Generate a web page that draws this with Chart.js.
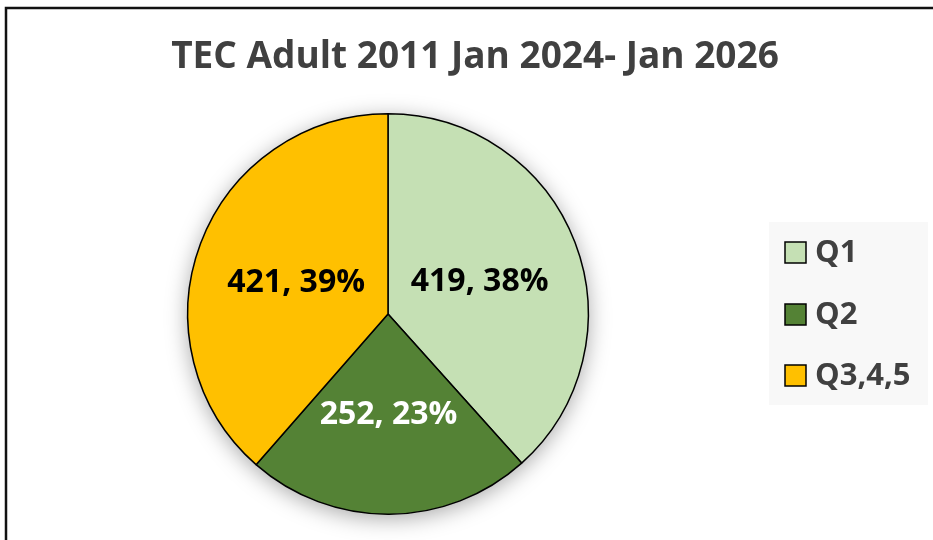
<!DOCTYPE html>
<html>
<head>
<meta charset="utf-8">
<script src="https://cdn.jsdelivr.net/npm/chart.js@4/dist/chart.umd.min.js"></script>
<style>
html,body{margin:0;padding:0;background:#fff;}
#wrap{width:933px;height:540px;position:relative;}
</style>
</head>
<body>
<div id="wrap"><canvas id="c" width="933" height="540"></canvas></div>
<script>
const chartTitle = "TEC Adult 2011 Jan 2024- Jan 2026";
const categories = ["Q1", "Q2", "Q3,4,5"];
const values = [419, 252, 421];
const percentLabels = ["38%", "23%", "39%"];
const sliceColors = ["#C5E0B4", "#548235", "#FFC000"];
const labelColors = ["#000000", "#FFFFFF", "#000000"];

const FONT = "'Open Sans', 'Liberation Sans', sans-serif";

const framePlugin = {
  id: 'frame',
  beforeDraw(chart) {
    const ctx = chart.ctx;
    ctx.save();
    ctx.fillStyle = '#fff';
    ctx.fillRect(0, 0, chart.width, chart.height);
    ctx.strokeStyle = '#111';
    ctx.lineWidth = 2.5;
    ctx.strokeRect(6, 8, 1200, 1200);
    // title
    ctx.fillStyle = '#404040';
    ctx.font = "bold 37px " + FONT;
    ctx.textAlign = 'center';
    ctx.textBaseline = 'middle';
    ctx.fillText(chartTitle, 475, 57);
    // legend background
    ctx.fillStyle = '#F8F8F8';
    ctx.fillRect(769, 222, 159, 183);
    const ys = [252.5, 314.5, 375.5];
    categories.forEach((c, i) => {
      ctx.fillStyle = sliceColors[i];
      ctx.fillRect(785, ys[i] - 10.5, 21, 21);
      ctx.strokeStyle = '#000';
      ctx.lineWidth = 1.5;
      ctx.strokeRect(785, ys[i] - 10.5, 21, 21);
      ctx.fillStyle = '#404040';
      ctx.font = "bold 31px " + FONT;
      ctx.textAlign = 'left';
      ctx.textBaseline = 'middle';
      ctx.fillText(c, 815, ys[i] + 1);
    });
    ctx.restore();
  },
  beforeDatasetsDraw(chart) {
    const meta = chart.getDatasetMeta(0);
    const a = meta.data[0];
    if (!a) return;
    const ctx = chart.ctx;
    ctx.save();
    ctx.shadowColor = 'rgba(0,0,0,0.35)';
    ctx.shadowBlur = 22;
    ctx.shadowOffsetX = 0;
    ctx.shadowOffsetY = 4;
    ctx.fillStyle = '#fff';
    ctx.beginPath();
    ctx.arc(a.x, a.y, a.outerRadius, 0, Math.PI * 2);
    ctx.fill();
    ctx.restore();
  },
  afterDatasetsDraw(chart) {
    const meta = chart.getDatasetMeta(0);
    const ctx = chart.ctx;
    ctx.save();
    ctx.font = "bold 32px " + FONT;
    ctx.textAlign = 'center';
    ctx.textBaseline = 'middle';
    meta.data.forEach((arc, i) => {
      const p = arc.getProps(['x', 'y', 'startAngle', 'endAngle', 'outerRadius'], true);
      const mid = (p.startAngle + p.endAngle) / 2;
      const r = p.outerRadius * 0.49;
      ctx.fillStyle = labelColors[i];
      ctx.fillText(values[i] + ", " + percentLabels[i], p.x + Math.cos(mid) * r, p.y + Math.sin(mid) * r + 3);
    });
    ctx.restore();
  }
};

new Chart(document.getElementById('c'), {
  type: 'pie',
  data: {
    labels: categories,
    datasets: [{
      data: values,
      backgroundColor: sliceColors,
      borderColor: '#000',
      borderWidth: 1.5,
      hoverOffset: 0
    }]
  },
  options: {
    responsive: false,
    animation: false,
    layout: { padding: { left: 187, right: 344, top: 113, bottom: 25 } },
    plugins: {
      legend: { display: false },
      title: { display: false },
      tooltip: { enabled: false }
    }
  },
  plugins: [framePlugin]
});
</script>
</body>
</html>
